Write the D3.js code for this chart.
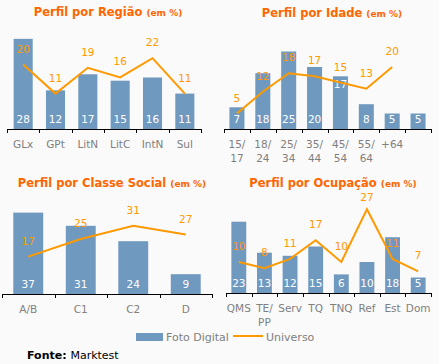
<!DOCTYPE html>
<html>
<head>
<meta charset="utf-8">
<script src="https://cdn.jsdelivr.net/npm/d3@7"></script>
<style>
  body { margin: 0; background: #fafafa; }
  svg { display: block; font-family: "DejaVu Sans", Verdana, sans-serif; }
</style>
</head>
<body>
<svg class="chart" width="439" height="364"></svg>
<script>
// Perfil por Região
let regiaoCats = ["GLx", "GPt", "LitN", "LitC", "IntN", "Sul"];
let regiaoFoto = [28, 12, 17, 15, 16, 11];
let regiaoUniv = [20, 11, 19, 16, 22, 11];

// Perfil por Idade (8 barras, 7 pontos no Universo)
let idadeCats = ["15/\n17", "18/\n24", "25/\n34", "35/\n44", "45/\n54", "55/\n64", "+64", ""];
let idadeFoto = [7, 18, 25, 20, 17, 8, 5, 5];
let idadeUniv = [5, 12, 18, 17, 15, 13, 20];

// Perfil por Classe Social
let classeCats = ["A/B", "C1", "C2", "D"];
let classeFoto = [37, 31, 24, 9];
let classeUniv = [17, 25, 31, 27];

// Perfil por Ocupação
let ocupCats = ["QMS", "TE/\nPP", "Serv", "TQ", "TNQ", "Ref", "Est", "Dom"];
let ocupFoto = [23, 13, 12, 15, 6, 10, 18, 5];
let ocupUniv = [10, 8, 11, 17, 10, 27, 11, 7];

let barColor = "#7099bf",
    lineColor = "#ff9900",
    titleColor = "#ff6600",
    textGray = "#808080";

let svg = d3.select(".chart");

function drawPanel(opts){
    let x = d3.scaleBand()
        .domain(d3.range(opts.cats.length))
        .range([opts.left, opts.right])
        .paddingInner(opts.pad)
        .paddingOuter(opts.pad / 2);
    let y = d3.scaleLinear().domain([0, opts.max]).range([opts.base, opts.top]);
    let g = svg.append("g");

    // title
    let t = g.append("text")
        .attr("x", opts.titleX)
        .attr("y", opts.titleY)
        .attr("text-anchor", "middle")
        .attr("fill", titleColor)
        .attr("font-weight", "bold");
    t.append("tspan").attr("font-size", 11.5).text(opts.title + " ");
    t.append("tspan").attr("font-size", 9).text("(em %)");

    // bars
    g.selectAll(".bar")
        .data(opts.foto)
        .join("rect")
        .attr("class", "bar")
        .attr("x", (d, i) => x(i))
        .attr("width", x.bandwidth())
        .attr("y", d => y(d))
        .attr("height", d => y(0) - y(d))
        .attr("fill", barColor);

    // axis
    let step = x.step();
    let ticks = d3.range(opts.cats.length + 1).map(i => opts.left + i * step);
    g.append("line")
        .attr("x1", opts.left).attr("x2", opts.right)
        .attr("y1", opts.base + 0.5).attr("y2", opts.base + 0.5)
        .attr("stroke", "#000");
    g.selectAll(".tick")
        .data(ticks)
        .join("line")
        .attr("class", "tick")
        .attr("x1", d => Math.round(d) + 0.5).attr("x2", d => Math.round(d) + 0.5)
        .attr("y1", opts.base).attr("y2", opts.base + 4)
        .attr("stroke", "#000");

    // category labels
    g.selectAll(".cat")
        .data(opts.cats)
        .join("text")
        .attr("class", "cat")
        .attr("text-anchor", "middle")
        .attr("font-size", 10.5)
        .attr("fill", textGray)
        .each(function(d, i){
            let lines = d.split("\n");
            d3.select(this).selectAll("tspan")
                .data(lines)
                .join("tspan")
                .attr("x", x(i) + x.bandwidth() / 2)
                .attr("y", (l, k) => opts.base + 19 + k * 14)
                .text(l => l);
        });

    // bar values
    g.selectAll(".bval")
        .data(opts.foto)
        .join("text")
        .attr("class", "bval")
        .attr("x", (d, i) => x(i) + x.bandwidth() / 2)
        .attr("y", (d, i) => opts.topLabel && opts.topLabel.includes(i) ? y(d) + 12 : opts.base - 6)
        .attr("text-anchor", "middle")
        .attr("font-size", 10.5)
        .attr("fill", "#fff")
        .text(d => d);

    // Universo line
    let line = d3.line()
        .x((d, i) => x(i) + x.bandwidth() / 2)
        .y(d => y(d));
    g.append("path")
        .datum(opts.univ)
        .attr("d", line)
        .attr("fill", "none")
        .attr("stroke", lineColor)
        .attr("stroke-width", 2);

    g.selectAll(".lval")
        .data(opts.univ)
        .join("text")
        .attr("class", "lval")
        .attr("x", (d, i) => x(i) + x.bandwidth() / 2)
        .attr("y", d => Math.max(y(d) - 12, opts.labelMin || 0))
        .attr("text-anchor", "middle")
        .attr("font-size", 10.5)
        .attr("fill", lineColor)
        .text(d => d);
}

drawPanel({title: "Perfil por Região", titleX: 108, titleY: 16,
    cats: regiaoCats, foto: regiaoFoto, univ: regiaoUniv,
    left: 7, right: 201, pad: 0.41, base: 129, top: 32.4, max: 30});

drawPanel({title: "Perfil por Idade", titleX: 332, titleY: 17,
    cats: idadeCats, foto: idadeFoto, univ: idadeUniv,
    left: 224, right: 431, pad: 0.42, base: 129, top: 36, max: 30, topLabel: [4]});

drawPanel({title: "Perfil por Classe Social", titleX: 112, titleY: 187,
    cats: classeCats, foto: classeFoto, univ: classeUniv,
    left: 2, right: 212, pad: 0.43, base: 294, top: 206, max: 40});

drawPanel({title: "Perfil por Ocupação", titleX: 333, titleY: 187,
    cats: ocupCats, foto: ocupFoto, univ: ocupUniv,
    left: 226, right: 431, pad: 0.42, base: 293, top: 200, max: 30, labelMin: 201});

// legend
let legend = svg.append("g");
legend.append("rect")
    .attr("x", 136).attr("y", 333).attr("width", 27).attr("height", 8)
    .attr("fill", barColor);
legend.append("text")
    .attr("x", 166).attr("y", 341)
    .attr("font-size", 11).attr("fill", textGray)
    .text("Foto Digital");
legend.append("line")
    .attr("x1", 233).attr("x2", 263).attr("y1", 336).attr("y2", 336)
    .attr("stroke", lineColor).attr("stroke-width", 2);
legend.append("text")
    .attr("x", 266).attr("y", 341)
    .attr("font-size", 11).attr("fill", textGray)
    .text("Universo");

// source
let fonte = svg.append("text")
    .attr("x", 27).attr("y", 359)
    .attr("font-size", 11).attr("fill", "#000");
fonte.append("tspan").attr("font-weight", "bold").text("Fonte: ");
fonte.append("tspan").text("Marktest");
</script>
</body>
</html>
